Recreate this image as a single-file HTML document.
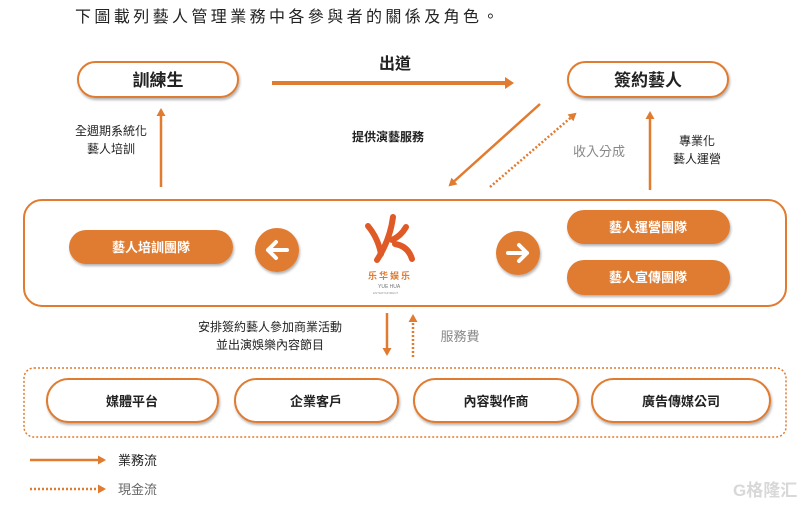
<!DOCTYPE html>
<html><head><meta charset="utf-8"><style>
html,body{margin:0;padding:0;background:#fff;width:807px;height:506px;overflow:hidden}
svg{display:block}
text{font-family:"Liberation Sans","Noto Sans CJK TC",sans-serif}
</style></head><body>
<svg width="807" height="506" viewBox="0 0 807 506" xmlns="http://www.w3.org/2000/svg">
<defs>
<marker id="ah" markerWidth="9" markerHeight="9" refX="6" refY="4.5" orient="auto" markerUnits="userSpaceOnUse"><path d="M0,0 L8,4.5 L0,9 z" fill="#e07b30"/></marker>
<marker id="ah2" markerWidth="10" markerHeight="12" refX="5" refY="6" orient="auto" markerUnits="userSpaceOnUse"><path d="M0,0 L9,6 L0,12 z" fill="#e07b30"/></marker>
<filter id="sh" x="-10%" y="-20%" width="130%" height="160%"><feDropShadow dx="1" dy="2" stdDeviation="1.2" flood-color="#000" flood-opacity="0.3"/></filter>
</defs>
<text x="75" y="22" font-size="16" fill="#222" letter-spacing="3.4">下圖載列藝人管理業務中各參與者的關係及角色。</text>

<rect x="78" y="62" width="160" height="35" rx="17.5" fill="#fff" stroke="#e07b30" stroke-width="2" filter="url(#sh)"/>
<text x="158" y="86" font-size="17" font-weight="bold" text-anchor="middle" fill="#222">訓練生</text>
<rect x="568" y="62" width="160" height="35" rx="17.5" fill="#fff" stroke="#e07b30" stroke-width="2" filter="url(#sh)"/>
<text x="648" y="86" font-size="17" font-weight="bold" text-anchor="middle" fill="#222">簽約藝人</text>

<line x1="272" y1="83" x2="510" y2="83" stroke="#e07b30" stroke-width="4" marker-end="url(#ah2)"/>
<text x="395" y="69" font-size="16" font-weight="bold" text-anchor="middle" fill="#222">出道</text>

<line x1="161" y1="187" x2="161" y2="110" stroke="#e07b30" stroke-width="2.5" marker-end="url(#ah)"/>
<text x="111" y="135" font-size="12" text-anchor="middle" fill="#222">全週期系統化</text>
<text x="111" y="153" font-size="12" text-anchor="middle" fill="#222">藝人培訓</text>

<line x1="650" y1="190" x2="650" y2="113" stroke="#e07b30" stroke-width="2.5" marker-end="url(#ah)"/>
<text x="697" y="145" font-size="12" text-anchor="middle" fill="#222">專業化</text>
<text x="697" y="163" font-size="12" text-anchor="middle" fill="#222">藝人運營</text>

<line x1="540" y1="104" x2="450" y2="185" stroke="#e07b30" stroke-width="2.5" marker-end="url(#ah)"/>
<line x1="490" y1="187" x2="575" y2="114" stroke="#e07b30" stroke-width="2.5" stroke-dasharray="2,2" marker-end="url(#ah)"/>
<text x="388" y="141" font-size="12" font-weight="bold" text-anchor="middle" fill="#222">提供演藝服務</text>
<text x="599" y="156" font-size="13" text-anchor="middle" fill="#888">收入分成</text>

<rect x="24" y="200" width="762" height="106" rx="18" fill="#fff" stroke="#e07b30" stroke-width="2"/>
<rect x="69" y="230" width="164" height="34" rx="17" fill="#e07b30" filter="url(#sh)"/>
<text x="151" y="252" font-size="13" font-weight="bold" text-anchor="middle" fill="#fff">藝人培訓團隊</text>
<circle cx="277" cy="250" r="22" fill="#e07b30" filter="url(#sh)"/>
<path d="M287,250 H268 M276,242 L268,250 L276,258" stroke="#fff" stroke-width="4" fill="none" stroke-linecap="round" stroke-linejoin="round"/>
<circle cx="518" cy="253" r="22" fill="#e07b30" filter="url(#sh)"/>
<path d="M508,253 H527 M519,245 L527,253 L519,261" stroke="#fff" stroke-width="4" fill="none" stroke-linecap="round" stroke-linejoin="round"/>
<rect x="567" y="210" width="163" height="34" rx="17" fill="#e07b30" filter="url(#sh)"/>
<text x="648" y="232" font-size="13" font-weight="bold" text-anchor="middle" fill="#fff">藝人運營團隊</text>
<rect x="567" y="260" width="163" height="35" rx="17" fill="#e07b30" filter="url(#sh)"/>
<text x="648" y="282" font-size="13" font-weight="bold" text-anchor="middle" fill="#fff">藝人宣傳團隊</text>
<g stroke="#e05a28" stroke-width="6" fill="none" stroke-linecap="round">
<path d="M368,226 Q378,238 381,254"/>
<path d="M393,217 Q390,240 377,260"/>
<path d="M392,240 Q401,236 406,227"/>
<path d="M395,244 Q408,246 412,259"/>
</g>
<text x="390" y="279" font-size="9" font-weight="bold" text-anchor="middle" fill="#e07b30" letter-spacing="2">乐华娱乐</text>
<text x="378" y="288" font-size="5" fill="#777">YUE HUA</text>
<text x="373" y="294" font-size="3" fill="#999">ENTERTAINMENT</text>

<line x1="387" y1="313" x2="387" y2="354" stroke="#e07b30" stroke-width="2.5" marker-end="url(#ah)"/>
<line x1="413" y1="357" x2="413" y2="316" stroke="#e07b30" stroke-width="2.5" stroke-dasharray="2,2" marker-end="url(#ah)"/>
<text x="270" y="331" font-size="12" text-anchor="middle" fill="#222">安排簽約藝人參加商業活動</text>
<text x="270" y="349" font-size="12" text-anchor="middle" fill="#222">並出演娛樂內容節目</text>
<text x="460" y="341" font-size="13" text-anchor="middle" fill="#888">服務費</text>

<rect x="24" y="368" width="762" height="69" rx="10" fill="none" stroke="#e07b30" stroke-width="1.5" stroke-dasharray="2,2"/>
<rect x="47" y="379" width="171" height="43" rx="21.5" fill="#fff" stroke="#e07b30" stroke-width="2" filter="url(#sh)"/>
<text x="132" y="406" font-size="13" font-weight="bold" text-anchor="middle" fill="#222">媒體平台</text>
<rect x="235" y="379" width="163" height="43" rx="21.5" fill="#fff" stroke="#e07b30" stroke-width="2" filter="url(#sh)"/>
<text x="316" y="406" font-size="13" font-weight="bold" text-anchor="middle" fill="#222">企業客戶</text>
<rect x="414" y="379" width="164" height="43" rx="21.5" fill="#fff" stroke="#e07b30" stroke-width="2" filter="url(#sh)"/>
<text x="496" y="406" font-size="13" font-weight="bold" text-anchor="middle" fill="#222">內容製作商</text>
<rect x="592" y="379" width="178" height="43" rx="21.5" fill="#fff" stroke="#e07b30" stroke-width="2" filter="url(#sh)"/>
<text x="681" y="406" font-size="13" font-weight="bold" text-anchor="middle" fill="#222">廣告傳媒公司</text>

<line x1="30" y1="460" x2="104" y2="460" stroke="#e07b30" stroke-width="2.5" marker-end="url(#ah)"/>
<text x="118" y="465" font-size="13" fill="#222">業務流</text>
<line x1="30" y1="489" x2="104" y2="489" stroke="#e07b30" stroke-width="2.5" stroke-dasharray="2,2" marker-end="url(#ah)"/>
<text x="118" y="494" font-size="13" fill="#666">現金流</text>
<text x="733" y="496" font-size="17" font-weight="bold" fill="#d8d8d8">G格隆汇</text>
</svg>
</body></html>
